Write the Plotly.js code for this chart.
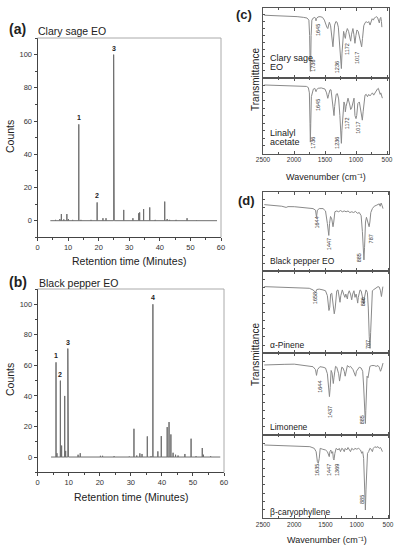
<!DOCTYPE html>
<html><head><meta charset="utf-8">
<script src="https://cdn.plot.ly/plotly-3.0.1.min.js"></script>
<style>html,body{margin:0;padding:0;background:#fff}#chart{width:397px;height:550px}</style>
</head><body><div id="chart"></div>
<script>
// ---------- (a) Clary sage EO chromatogram: retention time (min), relative counts ----------
const claryTimes   = [5.9, 7.3, 7.8, 8.6, 9.6, 10.1, 11.5, 13.5, 14.2, 17.5, 19.5, 21.4, 22.4, 24.9, 25.1, 28.2, 31.2, 33.1, 33.4, 34.7, 36.7, 38.5, 41.6, 42.4, 43.2, 45.3, 48.9, 52.0];
const claryCounts  = [0.5, 1, 4, 0.8, 4, 1, 0.5, 58, 0.5, 0.5, 11, 1.5, 1.5, 100, 98, 6.5, 1.5, 4.5, 5, 7, 8, 0.5, 11.5, 1, 0.5, 0.5, 1.5, 0.3];
const claryRun     = [4.2, 58.7];
const claryPeakIds = [[13.5, 58, '1'], [19.5, 11, '2'], [24.9, 100, '3']];

// ---------- (b) Black pepper EO chromatogram ----------
const pepperTimes  = [5.9, 6.2, 7.3, 7.7, 8.7, 9.0, 9.7, 9.9, 13.0, 13.7, 20.2, 20.9, 24.6, 29.5, 31.0, 31.9, 32.9, 33.6, 35.3, 36.5, 37.1, 38.7, 39.8, 41.7, 42.3, 42.9, 43.6, 44.4, 45.2, 47.4, 49.4, 51.0, 53.0, 53.4, 55.7];
const pepperCounts = [62, 2.5, 50, 7.5, 40, 4, 71, 8, 1.5, 2.5, 0.8, 0.8, 0.5, 0.3, 18.5, 1, 2.4, 2, 13.5, 0.5, 100, 3.7, 13.7, 19.6, 22.9, 14.8, 2.8, 1.5, 1, 2, 12, 0.5, 5.9, 1.5, 0.5];
const pepperRun    = [4.3, 58.8];
const pepperPeakIds = [[5.9, 62, '1'], [7.3, 50, '2'], [9.7, 71, '3'], [37.1, 100, '4']];

// ---------- (c) FTIR: [wavenumber cm-1, relative transmittance] ----------
const claryIR = [[2480,89],[2300,88.5],[2100,88],[1950,87],[1850,86],[1790,85],[1760,82],[1748,60],[1740,20],[1736,9],[1731,20],[1724,60],[1712,82],[1690,85],[1665,86],[1652,84],[1645,81],[1638,84],[1615,86.5],[1580,87],[1540,86],[1510,82],[1490,76],[1470,72],[1455,70],[1445,76],[1430,79],[1410,74],[1390,60],[1372,44],[1360,58],[1345,75],[1325,80],[1305,79],[1285,72],[1265,50],[1248,20],[1236,13],[1226,35],[1212,62],[1200,66],[1185,60],[1172,56],[1160,64],[1140,70],[1120,66],[1100,56],[1086,52],[1072,62],[1050,70],[1035,62],[1017,49],[1002,60],[985,68],[965,66],[945,58],[925,48],[909,44],[895,56],[875,74],[855,78],[835,80],[815,78],[795,80],[774,75],[760,80],[740,84],[720,82],[705,85],[685,86],[667,87],[650,85],[635,80],[624,78],[612,84],[600,86],[590,80],[583,72]];
const linalylIR = [[2480,90.4],[2200,90],[1903,89.5],[1800,88.5],[1769,87],[1752,80],[1742,40],[1736,15],[1730,40],[1720,75],[1700,84],[1688,85],[1665,86],[1652,84],[1645,81.6],[1638,84],[1610,86],[1560,86.5],[1500,85],[1475,80],[1455,72.8],[1440,78],[1420,84],[1403,84],[1385,70],[1370,55],[1355,50],[1345,62],[1320,78],[1301,79],[1280,72],[1260,50],[1245,20],[1236,13.4],[1228,30],[1210,60],[1194,68],[1180,64],[1172,55],[1160,62],[1140,70],[1129,73],[1100,64],[1086,58],[1070,60],[1050,70],[1032,73],[1017,50],[1000,46],[989,50],[970,66],[946,68],[925,56],[910,45],[898,44],[885,55],[870,72],[855,77],[835,78],[815,75],[795,78],[774,76],[755,78],[735,80],[715,77],[694,80],[670,84],[655,85],[640,86],[625,82],[610,78],[600,80],[590,78],[575,73]];
const claryIRLabels   = [[1694,17,'1736'],[1613,68,'1645'],[1306,15,'1236'],[1145,41,'1172'],[984,28,'1017']];
const linalylIRLabels = [[1694,14,'1736'],[1613,64,'1645'],[1306,14,'1236'],[1145,40,'1172'],[968,34,'1017']];

// ---------- (d) FTIR ----------
const pepperIR = [[2480,84],[2400,83.5],[2300,83],[2200,82],[2130,80.5],[2100,81.5],[2000,81.4],[1900,80.5],[1800,80],[1700,79],[1660,77],[1644,68],[1630,77],[1600,79],[1540,79],[1500,76],[1470,60],[1447,45],[1435,60],[1420,69],[1400,66],[1380,56],[1368,62],[1350,75],[1320,76],[1290,75],[1260,76.5],[1230,75],[1200,76],[1170,75],[1140,76],[1110,74],[1080,75],[1050,74],[1020,75.5],[990,73],[960,74],[930,70],[910,50],[895,20],[885,14],[875,30],[860,62],[845,68],[830,64],[815,60],[802,56],[790,62],[775,74],[750,79],[720,82],[690,83],[660,84],[640,85],[625,82],[610,86],[595,83],[580,79]];
const pineneIR = [[2480,81],[2300,80.5],[2100,80],[1900,79.5],[1760,79],[1700,77],[1680,76],[1658,74],[1640,77.5],[1600,78],[1540,77],[1500,76],[1470,70],[1445,52],[1432,56],[1418,72],[1400,73],[1380,60],[1360,48],[1345,55],[1320,76],[1300,77],[1280,70],[1268,62],[1255,70],[1231,77],[1210,72],[1190,68],[1175,72],[1160,68],[1150,66],[1140,72],[1120,76],[1100,72],[1081,65],[1065,72],[1045,76],[1028,68],[1010,72],[995,66],[985,61],[975,68],[948,77],[930,76],[910,70],[895,62],[886,60],[876,68],[852,77],[830,74],[815,55],[800,20],[787,6],[778,25],[765,60],[750,76],[735,77],[700,79],[660,81],[640,80.5],[620,76],[605,69],[595,75],[582,81]];
const limoneneIR = [[2480,85.7],[2300,85.7],[2150,86.5],[2000,86.7],[1850,85],[1760,84],[1700,83.6],[1660,80],[1644,73],[1628,80],[1590,83.6],[1540,83],[1500,82],[1470,75],[1450,55],[1437,47],[1425,58],[1410,79],[1395,76],[1375,63],[1365,70],[1340,84],[1320,83],[1290,75],[1275,66],[1262,72],[1240,83],[1220,82],[1200,78],[1185,72],[1170,80],[1150,85],[1120,83],[1100,84],[1080,82],[1060,80],[1040,76],[1020,72],[1005,78],[990,80],[960,83],[930,82],[905,78],[890,60],[870,25],[862,14],[855,30],[845,60],[835,72],[820,70],[805,78],[790,84],[760,85],[720,85],[690,84],[660,85],[640,83],[620,78],[608,80],[595,85],[580,88]];
const caryoIR = [[2480,88],[2300,87.5],[2100,87],[1900,86.5],[1750,86],[1680,84],[1650,80],[1630,68],[1615,66],[1600,72],[1585,84],[1550,83],[1500,82],[1470,80],[1455,76],[1440,74],[1430,80],[1415,82],[1400,78],[1385,80],[1375,72],[1365,70],[1350,78],[1330,84],[1300,82],[1280,84],[1260,80],[1240,84],[1220,83],[1200,80],[1185,84],[1160,82],[1140,85],[1120,83],[1100,80],[1080,84],[1050,82],[1030,84],[1000,83],[970,84],[940,82],[920,78],[905,80],[890,72],[875,40],[862,10],[852,35],[840,70],[828,78],[810,80],[790,84],[770,83],[750,80],[735,84],[710,86],[690,85],[660,86],[640,84],[620,85],[600,82],[590,80]];
const pepperIRLabels   = [[1641,61,'1644'],[1444,34,'1447'],[964,16,'885'],[772,40,'787']];
const pineneIRLabels   = [[1668,67,'1658'],[900,62,'886'],[820,10,'787']];
const limoneneIRLabels = [[1588,59,'1644'],[1428,28,'1437'],[916,18,'885']];
const caryoIRLabels    = [[1636,58,'1635'],[1444,58,'1447'],[1316,58,'1369'],[916,22,'885']];

const sampleNames = {c1:['Clary sage','EO'], c2:['Linalyl','acetate'], d1:'Black pepper EO', d2:'α-Pinene', d3:'Limonene', d4:'β-caryophyllene'};

// ---------- layout helpers ----------
const W = 397, H = 550;
const dx = (a,b) => [a/W, b/W];
const dy = (top,bot) => [1-bot/H, 1-top/H];
const FONT = 'Liberation Sans, Arial, sans-serif';
const GRAY = '#6e6e6e';

function chromTrace(times, counts, run, xa, ya) {
  const idx = times.map((t,i)=>i).sort((i,j)=>times[i]-times[j]);
  const x = [run[0]], y = [0];
  idx.forEach(i => { x.push(times[i], times[i], times[i]); y.push(0, counts[i], 0); });
  x.push(run[1]); y.push(0);
  return {type:'scatter', mode:'lines', x, y, xaxis:xa, yaxis:ya, line:{color:GRAY, width:1}, hoverinfo:'skip', showlegend:false};
}
function irTrace(pairs, xa, ya) {
  return {type:'scatter', mode:'lines', x:pairs.map(p=>p[0]), y:pairs.map(p=>p[1]), xaxis:xa, yaxis:ya,
          line:{color:'#8a8a8a', width:1}, hoverinfo:'skip', showlegend:false};
}

const data = [
  chromTrace(claryTimes, claryCounts, claryRun, 'x', 'y'),
  chromTrace(pepperTimes, pepperCounts, pepperRun, 'x2', 'y2'),
  irTrace(claryIR, 'x3', 'y3'),
  irTrace(linalylIR, 'x4', 'y4'),
  irTrace(pepperIR, 'x5', 'y5'),
  irTrace(pineneIR, 'x6', 'y6'),
  irTrace(limoneneIR, 'x7', 'y7'),
  irTrace(caryoIR, 'x8', 'y8')
];

function chromX(dom, anchor) {
  return {domain:dom, anchor, range:[0,60], showline:true, linecolor:'#444', linewidth:1, ticks:'outside', ticklen:3, tickcolor:'#444',
          dtick:10, tick0:0, minor:{dtick:5, ticks:'outside', ticklen:2, tickcolor:'#444'}, showgrid:false, zeroline:false,
          tickfont:{family:FONT, size:7.5, color:'#333'}, fixedrange:true};
}
function chromY(dom, anchor) {
  return {domain:dom, anchor, range:[-10,110], showline:true, linecolor:'#444', linewidth:1, ticks:'outside', ticklen:3, tickcolor:'#444',
          dtick:20, tick0:0, minor:{dtick:10, ticks:'outside', ticklen:2, tickcolor:'#444'}, showgrid:false, zeroline:false,
          tickfont:{family:FONT, size:7.5, color:'#333'}, fixedrange:true};
}
function irX(dom, anchor, range, labels) {
  return {domain:dom, anchor, range, showline:true, mirror:'ticks', linecolor:'#555', linewidth:1, ticks:'inside', ticklen:3, tickcolor:'#555',
          dtick:500, tick0:500, minor:{dtick:250, ticks:'inside', ticklen:2, tickcolor:'#555'}, showgrid:false, zeroline:false,
          showticklabels:labels, tickfont:{family:FONT, size:6.5, color:'#333'}, fixedrange:true};
}
function irY(dom, anchor) {
  return {domain:dom, anchor, range:[0,100], showline:true, mirror:true, linecolor:'#555', linewidth:1, ticks:'inside', ticklen:2, tickcolor:'#555',
          dtick:10, showticklabels:false, showgrid:false, zeroline:false, fixedrange:true};
}

const cX = dx(263,389), dX = dx(263,389);
const cRange = [2500,468], dRange = [2500,484];

const layout = {
  width:W, height:H, margin:{l:0,r:0,t:0,b:0}, paper_bgcolor:'#fff', plot_bgcolor:'rgba(0,0,0,0)',
  font:{family:FONT, color:'#333'}, showlegend:false,
  xaxis:  chromX(dx(37.5,221), 'y'),
  yaxis:  chromY(dy(38,237.3), 'x'),
  xaxis2: chromX(dx(37.7,224), 'y2'),
  yaxis2: chromY(dy(289,472.3), 'x2'),
  xaxis3: irX(cX, 'y3', cRange, false),
  yaxis3: irY(dy(7.5,77.7), 'x3'),
  xaxis4: irX(cX, 'y4', cRange, true),
  yaxis4: irY(dy(77.7,153.5), 'x4'),
  xaxis5: irX(dX, 'y5', dRange, false),
  yaxis5: irY(dy(192,271), 'x5'),
  xaxis6: irX(dX, 'y6', dRange, false),
  yaxis6: irY(dy(271,353.3), 'x6'),
  xaxis7: irX(dX, 'y7', dRange, false),
  yaxis7: irY(dy(353.3,435), 'x7'),
  xaxis8: irX(dX, 'y8', dRange, true),
  yaxis8: irY(dy(435,518.3), 'x8'),
  shapes: [],
  annotations: []
};

// light frame on top/right of chromatograms
[['x','y'],['x2','y2']].forEach(([xa,ya]) => {
  layout.shapes.push({type:'line', xref:xa+' domain', yref:ya+' domain', x0:0, x1:1, y0:1, y1:1, line:{color:'#aaa', width:1}});
  layout.shapes.push({type:'line', xref:xa+' domain', yref:ya+' domain', x0:1, x1:1, y0:0, y1:1, line:{color:'#aaa', width:1}});
});

const A = layout.annotations;
function paperText(text, x, y, size, opts={}, weight='normal') {
  A.push(Object.assign({text, xref:'paper', yref:'paper', x:x/W, y:1-y/H, showarrow:false, xanchor:'left', yanchor:'middle',
    font:{family:FONT, size, color:'#222', weight}}, opts));
}
paperText('(a)', 7, 29, 14, {}, 'bold');
paperText('Clary sage EO', 36, 31, 10.5);
paperText('(b)', 7, 282, 14, {}, 'bold');
paperText('Black pepper EO', 37, 283, 10.5);
paperText('(c)', 234, 15, 13, {}, 'bold');
paperText('(d)', 236, 200, 13, {}, 'bold');
paperText('Counts', 10, 137, 10.5, {xanchor:'center', textangle:-90});
paperText('Counts', 10, 380, 10.5, {xanchor:'center', textangle:-90});
paperText('Retention time (Minutes)', 129, 261, 10.5, {xanchor:'center'});
paperText('Retention time (Minutes)', 131, 497, 10.5, {xanchor:'center'});
paperText('Transmittance', 255, 80, 10, {xanchor:'center', textangle:-90});
paperText('Transmittance', 255, 355, 10, {xanchor:'center', textangle:-90});
paperText('Wavenumber (cm⁻¹)', 326, 177, 9, {xanchor:'center'});
paperText('Wavenumber (cm⁻¹)', 327, 540, 9, {xanchor:'center'});

// peak numbers
function peakIds(list, xa, ya) {
  list.forEach(([t,h,s]) => A.push({text:s, x:t, y:h, xref:xa, yref:ya, showarrow:false, xanchor:'center', yanchor:'bottom', yshift:1,
    font:{family:FONT, size:7, color:'#222', weight:'bold'}}));
}
peakIds(claryPeakIds, 'x', 'y');
peakIds(pepperPeakIds, 'x2', 'y2');

// IR band labels
function bandLabels(list, xa, ya) {
  list.forEach(([w,v,s]) => A.push({text:s, x:w, y:v, xref:xa, yref:ya, showarrow:false, textangle:-90, xanchor:'center', yanchor:'middle',
    font:{family:FONT, size:5.5, color:'#333'}}));
}
bandLabels(claryIRLabels, 'x3', 'y3');
bandLabels(linalylIRLabels, 'x4', 'y4');
bandLabels(pepperIRLabels, 'x5', 'y5');
bandLabels(pineneIRLabels, 'x6', 'y6');
bandLabels(limoneneIRLabels, 'x7', 'y7');
bandLabels(caryoIRLabels, 'x8', 'y8');

function nameLabel(text, y, xa, ya, size) {
  A.push({text, x:2420, y, xref:xa, yref:ya, showarrow:false, xanchor:'left', yanchor:'middle', font:{family:FONT, size, color:'#222'}});
}
nameLabel(sampleNames.c1[0], 28, 'x3', 'y3', 9);
nameLabel(sampleNames.c1[1], 15, 'x3', 'y3', 9);
nameLabel(sampleNames.c2[0], 27, 'x4', 'y4', 9);
nameLabel(sampleNames.c2[1], 15, 'x4', 'y4', 9);
nameLabel(sampleNames.d1, 13, 'x5', 'y5', 8.5);
nameLabel(sampleNames.d2, 10, 'x6', 'y6', 8.5);
nameLabel(sampleNames.d3, 10, 'x7', 'y7', 8.5);
nameLabel(sampleNames.d4, 8, 'x8', 'y8', 8.5);

Plotly.newPlot('chart', data, layout, {staticPlot:true, displayModeBar:false});
</script></body></html>
